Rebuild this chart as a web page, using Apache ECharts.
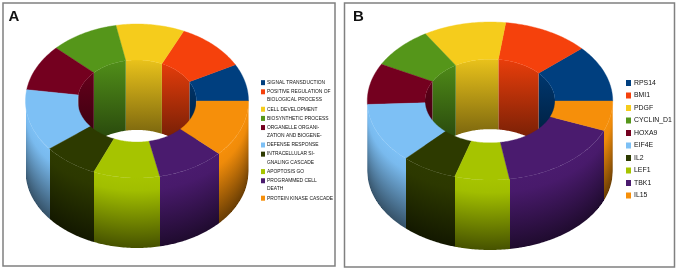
<!DOCTYPE html>
<html>
<head>
<meta charset="utf-8">
<style>html,body{margin:0;padding:0;background:#fff}#c{width:680px;height:270px;filter:blur(0.35px)}</style>
<script src="https://cdn.jsdelivr.net/npm/echarts@6/dist/echarts.min.js"></script>
</head>
<body>
<div id="c"></div>
<script>
const colors = ['#003f7f','#f5410c','#f5cc1c','#55961a','#74001f','#7dc0f5','#2d3a00','#a6c400','#4a1b6e','#f68f0a'];

const namesA = ['SIGNAL TRANSDUCTION','POSITIVE REGULATION OF\nBIOLOGICAL PROCESS','CELL DEVELOPMENT','BIOSYNTHETIC PROCESS','ORGANELLE ORGANI-\nZATION AND BIOGENE-','DEFENSE RESPONSE','INTRACELLULAR SI-\nGNALING CASCADE','APOPTOSIS GO','PROGRAMMED CELL\nDEATH','PROTEIN KINASE CASCADE'];
const valuesA = [7.8,10.3,9.9,9.9,9.7,13.0,8.0,9.6,9.8,11.9];

const namesB = ['RPS14','BMI1','PDGF','CYCLIN_D1','HOXA9','EIF4E','IL2','LEF1','TBK1','IL15'];
const valuesB = [11.6,11.4,10.9,8.5,8.4,12.3,7.4,7.2,16.4,6.1];

const panelA = {frame:[3,3,332,263], cx:137, cy:101, rx:111.5, ry:77, depth:70, hole:0.533};
const panelB = {frame:[344.5,3,330,264], cx:490, cy:101, rx:122.7, ry:79, depth:70, hole:0.53};

function shade(hex, k){
  const n = parseInt(hex.slice(1),16);
  const c = [n>>16&255, n>>8&255, n&255].map(v=>Math.round(v*k));
  return 'rgb('+c.join(',')+')';
}
function arcPts(a0,a1,r,drop,coord){
  const pts=[], steps=Math.max(2,Math.ceil(Math.abs(a1-a0)));
  for(let i=0;i<=steps;i++){
    const t=(a0+(a1-a0)*i/steps)*Math.PI/180;
    pts.push(coord([r*Math.cos(t), r*Math.sin(t)-drop]));
  }
  return pts;
}
function ringRender(panel, color){
  const depth = panel.depth/panel.ry, h = panel.hole;
  return function(params, api){
    const a0=api.value(0), a1=api.value(1), coord=p=>api.coord(p), kids=[];
    // inner wall (only its back half faces the viewer)
    const i0=Math.max(a0,0), i1=Math.min(a1,180);
    if(i1>i0){
      const yTop=coord([0,h])[1], yBot=coord([0,h-1.35])[1];
      kids.push({type:'polygon',z2:1,
        shape:{points:arcPts(i0,i1,h,0,coord).concat(arcPts(i1,i0,h,depth,coord))},
        style:{stroke:null,fill:{type:'linear',x:0,y:yTop,x2:0,y2:yBot,global:true,
          colorStops:[{offset:0,color:shade(color,.95)},{offset:1,color:shade(color,.33)}]}}});
    }
    // outer wall (front half), one pixel-wide column at a time so the shading follows the rim
    const o0=Math.max(a0,180), o1=Math.min(a1,360);
    if(o1>o0){
      const unit=api.size([1,0])[0], mid=coord([0,0])[0];
      const X0=Math.round(mid+unit*Math.cos(o0*Math.PI/180)), X1=Math.round(mid+unit*Math.cos(o1*Math.PI/180));
      const rim=u=>-Math.sqrt(Math.max(0,1-u*u));
      for(let X=X0;X<X1;X++){
        const u0=Math.max(-1,(X-mid)/unit), u1=Math.min(1,(X+1-mid)/unit);
        kids.push({type:'polygon',z2:2,
          shape:{points:[coord([u0,rim(u0)]),coord([u1,rim(u1)]),coord([u1,rim(u1)-depth]),coord([u0,rim(u0)-depth])]},
          style:{stroke:null,fill:{type:'linear',x:0,y:0,x2:0,y2:1,
            colorStops:[{offset:0,color:color},{offset:.18,color:shade(color,.97)},{offset:1,color:shade(color,.42)}]}}});
      }
    }
    // top face
    kids.push({type:'polygon',z2:3,
      shape:{points:arcPts(a0,a1,1,0,coord).concat(arcPts(a1,a0,h,0,coord))},
      style:{fill:color,stroke:color,lineWidth:.4}});
    return {type:'group',children:kids};
  };
}
function ringSeries(names, values, panel, idx){
  const total=values.reduce((a,b)=>a+b,0);
  let acc=0;
  return names.map((name,i)=>{
    const a0=acc/total*360; acc+=values[i]; const a1=acc/total*360;
    return {type:'custom',name,xAxisIndex:idx,yAxisIndex:idx,clip:false,silent:true,
      itemStyle:{color:colors[i]},
      encode:{x:0,y:1},
      renderItem:ringRender(panel,colors[i]),
      data:[[a0,a1]]};
  });
}
function gridOf(p){
  return {left:p.frame[0],top:p.frame[1],width:p.frame[2],height:p.frame[3],show:true,
    backgroundColor:'#fff',borderColor:'#808080',borderWidth:1.5};
}
function xOf(p,i){
  return {type:'value',gridIndex:i,show:false,min:(p.frame[0]-p.cx)/p.rx,max:(p.frame[0]+p.frame[2]-p.cx)/p.rx};
}
function yOf(p,i){
  return {type:'value',gridIndex:i,show:false,min:(p.cy-p.frame[1]-p.frame[3])/p.ry,max:(p.cy-p.frame[1])/p.ry};
}
function legendOf(names,left,top,gap,fs,lh,sw,sh,ind,family){
  const rich={t:{fontSize:fs,lineHeight:lh,color:'#111',fontFamily:family},ind:{width:ind,height:1,lineHeight:lh}};
  names.forEach((n,i)=>{rich['s'+i]={backgroundColor:colors[i],width:sw,height:sh,lineHeight:lh};rich['g']={width:ind-sw,height:1,lineHeight:lh};});
  return {orient:'vertical',left,top,itemGap:gap,itemWidth:0,itemHeight:0,selectedMode:false,padding:0,
    data:names,textStyle:{rich,fontSize:fs,lineHeight:lh},
    formatter:n=>{
      const i=names.indexOf(n), L=n.split('\n');
      return L.map((s,k)=>(k===0?'{s'+i+'|}{g|}':'{ind|}')+'{t|'+s+'}').join('\n');
    }};
}
const chart=echarts.init(document.getElementById('c'),null,{renderer:'canvas'});
chart.setOption({
  animation:false,
  tooltip:{show:false},
  title:[
    {text:'A',left:8.5,top:9,padding:0,textStyle:{fontFamily:'Liberation Sans',fontSize:15,fontWeight:'bold',color:'#111'}},
    {text:'B',left:353,top:9,padding:0,textStyle:{fontFamily:'Liberation Sans',fontSize:15,fontWeight:'bold',color:'#111'}}
  ],
  grid:[gridOf(panelA),gridOf(panelB)],
  xAxis:[xOf(panelA,0),xOf(panelB,1)],
  yAxis:[yOf(panelA,0),yOf(panelB,1)],
  legend:[
    legendOf(namesA,256,78.5,.85,4.9,8.3,4,5,6,'Liberation Sans'),
    legendOf(namesB,621,79.5,5.5,6.9,7,5,6,8,'Liberation Sans')
  ],
  series:ringSeries(namesA,valuesA,panelA,0).concat(ringSeries(namesB,valuesB,panelB,1))
});
</script>
</body>
</html>
